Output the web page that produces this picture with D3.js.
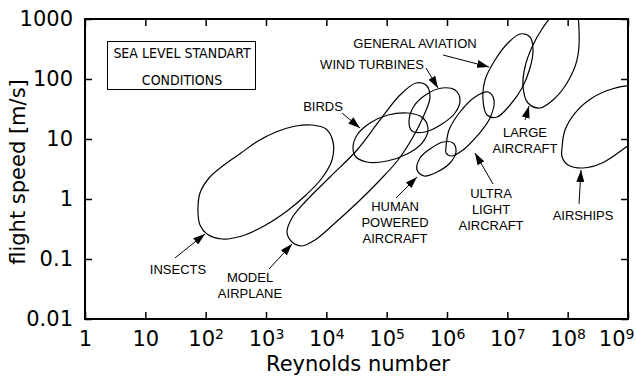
<!DOCTYPE html>
<html>
<head>
<meta charset="utf-8">
<script src="https://cdn.jsdelivr.net/npm/d3@7"></script>
<style>
  html, body { margin: 0; padding: 0; background: #fff; }
  svg { display: block; }
</style>
</head>
<body>
<svg id="chart" width="636" height="376"></svg>
<script>
// ---- axis ticks ----
const reTicks = [1, 1e1, 1e2, 1e3, 1e4, 1e5, 1e6, 1e7, 1e8, 1e9];
const reTickExp = [0, 1, 2, 3, 4, 5, 6, 7, 8, 9];
const speedTicks = [0.01, 0.1, 1, 10, 100, 1000];
const speedTickLabels = ["0.01", "0.1", "1", "10", "100", "1000"];

// ---- flight regimes: outline vertices as [log10 Reynolds number, log10 flight speed (m/s)] ----
const insects = [[1.873,-0.217],[1.906,0.10],[2.055,0.35],[2.304,0.567],[2.586,0.767],[2.868,0.967],
  [3.166,1.117],[3.497,1.217],[3.763,1.233],[3.995,1.167],[4.111,0.95],[4.094,0.65],[3.928,0.35],
  [3.663,0.067],[3.348,-0.2],[2.967,-0.45],[2.602,-0.617],[2.271,-0.667],[2.022,-0.583],[1.906,-0.433]];
const modelAirplane = [[3.348,-0.55],[3.431,-0.717],[3.597,-0.783],[3.812,-0.683],[4.144,-0.4],
  [4.525,-0.05],[4.890,0.317],[5.188,0.65],[5.437,1.033],[5.619,1.4],[5.718,1.7],[5.652,1.9],
  [5.487,1.933],[5.221,1.733],[4.890,1.317],[4.509,0.817],[4.061,0.367],[3.647,-0.05],[3.431,-0.317]];
const birds = [[4.442,0.85],[4.509,1.067],[4.724,1.267],[5.022,1.4],[5.354,1.433],[5.603,1.35],
  [5.685,1.15],[5.586,0.933],[5.337,0.75],[5.006,0.633],[4.674,0.617],[4.492,0.7]];
const windTurbines = [[5.370,1.283],[5.453,1.55],[5.669,1.75],[5.917,1.85],[6.133,1.817],[6.216,1.65],
  [6.133,1.433],[5.917,1.25],[5.636,1.117],[5.420,1.133]];
const humanPowered = [[5.503,0.483],[5.553,0.683],[5.718,0.833],[5.934,0.95],[6.100,0.933],
  [6.149,0.783],[6.050,0.6],[5.835,0.45],[5.619,0.383]];
const ultralight = [[5.984,0.867],[6.033,1.15],[6.216,1.45],[6.464,1.7],[6.680,1.783],[6.779,1.65],
  [6.713,1.35],[6.514,1.067],[6.266,0.817],[6.083,0.717],[5.984,0.767]];
const generalAviation = [[6.597,1.65],[6.630,1.983],[6.796,2.317],[7.011,2.6],[7.210,2.75],[7.376,2.7],
  [7.426,2.483],[7.376,2.183],[7.243,1.85],[7.045,1.567],[6.829,1.367],[6.663,1.4]];
const largeAircraft = [[7.260,1.867],[7.293,2.2],[7.409,2.533],[7.575,2.833],[7.757,3.067],[7.973,3.183],
  [8.139,3.117],[8.188,2.817],[8.155,2.317],[7.989,1.933],[7.757,1.65],[7.542,1.517],[7.343,1.6]];
const airships = [[7.907,0.867],[7.956,1.15],[8.122,1.433],[8.404,1.683],[8.735,1.833],[9.034,1.883],
  [9.282,1.783],[9.365,1.45],[9.199,1.067],[8.901,0.817],[8.570,0.6],[8.255,0.517],[8.006,0.567],[7.907,0.7]];

const regions = [insects, modelAirplane, birds, windTurbines, humanPowered,
                 ultralight, generalAviation, largeAircraft, airships];

// ---- annotations: label lines, label anchor and arrow (tail -> head), all in log10 units ----
const labelLines = [["INSECTS"], ["MODEL", "AIRPLANE"], ["BIRDS"], ["WIND TURBINES"],
  ["HUMAN", "POWERED", "AIRCRAFT"], ["ULTRA", "LIGHT", "AIRCRAFT"], ["GENERAL AVIATION"],
  ["LARGE", "AIRCRAFT"], ["AIRSHIPS"]];
const labelAt = [[1.541,-1.167],[2.735,-1.3],[3.945,1.55],[4.757,2.25],[5.138,-0.117],
  [6.730,0.1],[5.470,2.6],[7.293,1.117],[8.255,-0.267]];
const arrowFrom = [[1.492,-0.983],[3.050,-1.167],[4.260,1.433],[5.652,2.183],[5.155,0.017],
  [6.763,0.25],[5.934,2.4],[7.293,1.317],[8.188,-0.083]];
const arrowTo = [[1.989,-0.583],[3.431,-0.75],[4.558,1.183],[5.851,1.85],[5.503,0.367],
  [6.464,0.767],[6.697,2.2],[7.359,1.55],[8.221,0.483]];

const noteLines = ["SEA LEVEL STANDART", "CONDITIONS"];

// ---- layout ----
const svg = d3.select("#chart");
const plotLeft = 85, plotRight = 628, plotTop = 19, plotBottom = 319;

const x = d3.scaleLog().domain([1, 1e9]).range([plotLeft, plotRight]);
const y = d3.scaleLog().domain([0.01, 1000]).range([plotBottom, plotTop]);
const px = d => [x(Math.pow(10, d[0])), y(Math.pow(10, d[1]))];

const labelFont = "'Liberation Sans', Arial, sans-serif";
const axisFont = "'DejaVu Sans', Verdana, sans-serif";

const defs = svg.append("defs");
defs.append("clipPath").attr("id", "plotClip")
  .append("rect").attr("x", plotLeft).attr("y", plotTop)
  .attr("width", plotRight - plotLeft).attr("height", plotBottom - plotTop);

const head = defs.append("marker")
  .attr("id", "head").attr("markerUnits", "userSpaceOnUse")
  .attr("viewBox", "0 -4 12 8").attr("refX", 12).attr("refY", 0)
  .attr("markerWidth", 12).attr("markerHeight", 8).attr("orient", "auto");
head.append("path").attr("d", "M0,-4L12,0L0,4Z").attr("fill", "#000");

// ---- region outlines ----
const outline = d3.line().curve(d3.curveCatmullRomClosed.alpha(0.5));
svg.append("g").attr("clip-path", "url(#plotClip)")
  .selectAll("path").data(regions).join("path")
  .attr("d", r => outline(r.map(px)))
  .attr("fill", "none").attr("stroke", "#000").attr("stroke-width", 1.2);

// ---- axes (ticks point inward on all four sides) ----
const tickLen = 7;
const gx = svg.append("g").attr("transform", `translate(0,${plotBottom})`)
  .call(d3.axisBottom(x).tickValues(reTicks).tickSizeInner(-tickLen).tickSizeOuter(0).tickPadding(12));
gx.selectAll(".tick text").each(function(d, i) {
  const t = d3.select(this).text(null)
    .attr("font-family", axisFont).attr("font-size", 21).attr("fill", "#000");
  const e = reTickExp[i];
  if (e === 0) t.text("1");
  else if (e === 1) t.text("10");
  else {
    t.append("tspan").text("10");
    t.append("tspan").attr("dy", -7).attr("font-size", 14).text(e);
  }
  // the last label is pulled inside the canvas edge
  if (i === reTicks.length - 1) t.attr("text-anchor", "end").attr("x", 634 - plotRight);
});

const gy = svg.append("g").attr("transform", `translate(${plotLeft},0)`)
  .call(d3.axisLeft(y).tickValues(speedTicks).tickSizeInner(-tickLen).tickSizeOuter(0).tickPadding(12)
    .tickFormat((d, i) => speedTickLabels[i]));
gy.selectAll(".tick text").attr("font-family", axisFont).attr("font-size", 21).attr("fill", "#000");

svg.append("g").attr("transform", `translate(0,${plotTop})`)
  .call(d3.axisTop(x).tickValues(reTicks).tickSizeInner(-tickLen).tickSizeOuter(0).tickFormat(""));
svg.append("g").attr("transform", `translate(${plotRight},0)`)
  .call(d3.axisRight(y).tickValues(speedTicks).tickSizeInner(-tickLen).tickSizeOuter(0).tickFormat(""));

svg.selectAll(".domain").remove();
svg.selectAll(".tick line").attr("stroke", "#000").attr("stroke-width", 1.5);

svg.append("rect").attr("x", plotLeft).attr("y", plotTop)
  .attr("width", plotRight - plotLeft).attr("height", plotBottom - plotTop)
  .attr("fill", "none").attr("stroke", "#000").attr("stroke-width", 2);

// axis titles
svg.append("text").attr("x", 358).attr("y", 371).attr("text-anchor", "middle")
  .attr("font-family", axisFont).attr("font-size", 21).text("Reynolds number");
svg.append("text").attr("transform", "translate(25,172) rotate(-90)").attr("text-anchor", "middle")
  .attr("font-family", axisFont).attr("font-size", 21).text("flight speed [m/s]");

// ---- note box ----
svg.append("rect").attr("x", 107.5).attr("y", 41.5).attr("width", 148).attr("height", 48)
  .attr("fill", "none").attr("stroke", "#000").attr("stroke-width", 1);
svg.append("g").selectAll("text").data(noteLines).join("text")
  .attr("x", 182).attr("y", (d, i) => 53 + i * 27).attr("dy", "0.36em")
  .attr("text-anchor", "middle").attr("font-family", "'DejaVu Sans Condensed', 'DejaVu Sans', sans-serif")
  .attr("font-size", 14).text(d => d);

// ---- arrows ----
svg.append("g").selectAll("line").data(arrowFrom).join("line")
  .attr("x1", d => px(d)[0]).attr("y1", d => px(d)[1])
  .attr("x2", (d, i) => px(arrowTo[i])[0]).attr("y2", (d, i) => px(arrowTo[i])[1])
  .attr("stroke", "#000").attr("stroke-width", 1).attr("marker-end", "url(#head)");

// ---- labels ----
const lg = svg.append("g").attr("font-family", labelFont).attr("font-size", 13)
  .attr("text-anchor", "middle").attr("fill", "#000");
labelLines.forEach((lines, i) => {
  const [lx, ly] = px(labelAt[i]);
  lines.forEach((s, j) => {
    lg.append("text").attr("x", lx).attr("y", ly + j * 16).attr("dy", "0.36em").text(s);
  });
});
</script>
</body>
</html>
